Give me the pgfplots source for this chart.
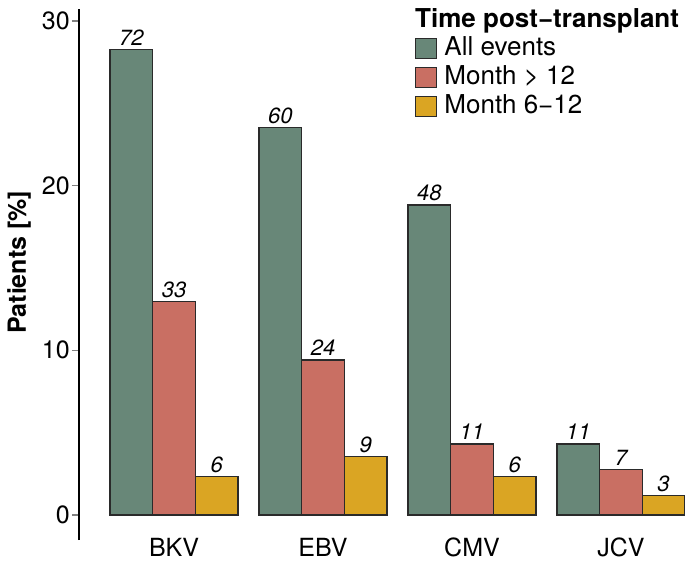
\documentclass[border=0pt]{standalone}
\usepackage{pgfplots}
\pgfplotsset{compat=1.18}
\usepackage{pgfplotstable}
\usepackage{fontspec}
\setmainfont{TeX Gyre Heros}

\definecolor{cAll}{HTML}{688778}
\definecolor{cLate}{HTML}{C96F63}
\definecolor{cMid}{HTML}{DAA523}
\definecolor{cEdge}{HTML}{2A2A2A}

% patients with event, % of 255; n = count above bar
\pgfplotstableread{
x  all    alln  late   laten  mid   midn
1  28.24  72    12.94  33     2.35  6
2  23.53  60    9.41   24     3.53  9
3  18.82  48    4.31   11     2.35  6
4  4.31   11    2.75   7      1.18  3
}\virus

\begin{document}
\begin{tikzpicture}[x=1pt,y=1pt]
\begin{axis}[
  at={(79pt,23pt)}, anchor=south west,
  scale only axis, width=606pt, height=531pt,
  xmin=0.362, xmax=4.43,
  ymin=-1.52, ymax=30.72,
  axis lines=left,
  axis line style={-, line width=1.4pt},
  x axis line style={draw=none},
  xtick={1,2,3,4},
  xticklabels={BKV,EBV,CMV,JCV},
  xtick style={draw=none},
  ytick={0,10,20,30},
  ytick style={line width=1.4pt},
  tick align=outside,
  major tick length=7pt,
  /pgf/number format/assume math mode=true,
  tick label style={font=\fontsize{25}{30}\selectfont},
  xticklabel style={anchor=north, inner sep=0pt, yshift=9pt},
  yticklabel style={inner sep=0pt, xshift=-2pt},
  ylabel={\bfseries Patients [\%]},
  ylabel style={at={(rel axis cs:0,0.523)}, anchor=center, rotate=0, yshift=60pt,
    font=\fontsize{25}{30}\selectfont, inner sep=0pt},
  bar width=0.2864,
  ybar=0pt,
  point meta=explicit symbolic,
  nodes near coords,
  every node near coord/.append style={font=\fontsize{22}{26}\itshape,
    inner sep=0pt, anchor=base, yshift=4pt, text=black},
  legend style={at={(rel axis cs:0.5545,1)}, anchor=north west, yshift=-28pt,
    draw=none, fill=none, inner sep=0pt, row sep=0pt, column sep=7pt,
    font=\fontsize{26}{31}\selectfont,
    nodes={inner sep=0pt, text height=18pt, text depth=11pt, anchor=base west}},
  legend cell align=left,
  legend image code/.code={\draw[#1, line width=1.2pt] (0pt,-3pt) rectangle (21pt,17pt);},
]
\addplot[fill=cAll, draw=cEdge, line width=1.2pt, bar shift=-0.2864]
  table[x=x, y=all, meta=alln] {\virus};
\addlegendentry{All events}
\addplot[fill=cLate, draw=cEdge, line width=1.2pt, bar shift=0]
  table[x=x, y=late, meta=laten] {\virus};
\addlegendentry{Month > 12}
\addplot[fill=cMid, draw=cEdge, line width=1.2pt, bar shift=0.2864]
  table[x=x, y=mid, meta=midn] {\virus};
\addlegendentry{Month 6−12}
\node[anchor=base west, inner sep=0pt, font=\fontsize{26}{31}\selectfont\bfseries,
  yshift=-19pt] at (rel axis cs:0.5545,1) {Time post−transplant};
\end{axis}
\pgfresetboundingbox
\path[use as bounding box] (0,0) rectangle (685pt,563pt);
\end{tikzpicture}
\end{document}
